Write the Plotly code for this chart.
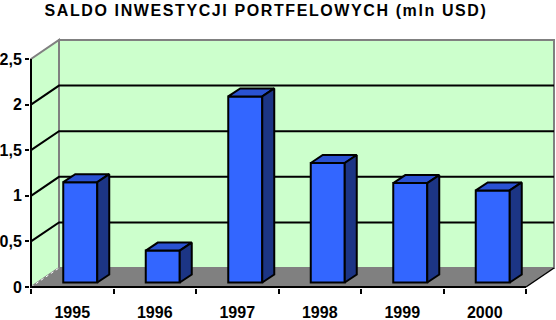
import numpy as np
import plotly.graph_objects as go

# ---------------- data ----------------
years = ["1995", "1996", "1997", "1998", "1999", "2000"]
saldo = [1.10, 0.35, 2.04, 1.31, 1.09, 1.01]
y_tick_vals = [0, 0.5, 1, 1.5, 2, 2.5]
y_tick_text = ["0", "0,5", "1", "1,5", "2", "2,5"]
title_text = "SALDO INWESTYCJI PORTFELOWYCH (mln USD)"

# ---------------- geometry (pixel based scale) ----------------
W, H = 556, 320
L, R, T, B = 30, 0, 38, 32
PXX = 82.5   # px per category
PXY = 91.2   # px per unit of value
plot_w = W - L - R
plot_h = H - T - B
x_start = -0.5 - 1 / PXX
x_range = [x_start, x_start + plot_w / PXX]
y_start = -1 / PXY
y_range = [y_start, y_start + plot_h / PXY]

DX, DY = 28 / PXX, 19 / PXY        # depth of the 3D box
OX, OY = 8 / PXX, 4.5 / PXY        # bar front-face offset into depth
BX, BY = 12 / PXX, 8 / PXY         # bar depth
BW = 34 / PXX                      # bar front width

n = len(years)
xs = np.arange(n)
ymax = y_tick_vals[-1]
xl, xr = -0.5, n - 0.5

GREEN = "#CCFFCC"
GRAY = "#808080"
FRONT = "#3366FF"
TOP = "#2A52D2"
SIDE = "#1C3585"

FONT = "Liberation Sans, Arial, sans-serif"


def path(points):
    return "M " + " L ".join(f"{px},{py}" for px, py in points) + " Z"


shapes = []
# left side wall
shapes.append(dict(type="path", xref="x", yref="y", layer="below",
                   path=path([(xl, 0), (xl, ymax), (xl + DX, ymax + DY), (xl + DX, DY)]),
                   fillcolor=GREEN, line=dict(color=GRAY, width=2)))
# back wall
shapes.append(dict(type="path", xref="x", yref="y", layer="below",
                   path=path([(xl + DX, DY), (xr + DX, DY), (xr + DX, ymax + DY), (xl + DX, ymax + DY)]),
                   fillcolor=GREEN, line=dict(color=GRAY, width=2)))
# gridlines on walls
for v in y_tick_vals[1:-1]:
    shapes.append(dict(type="path", xref="x", yref="y", layer="below",
                       path=f"M {xl},{v} L {xl + DX},{v + DY} L {xr + DX},{v + DY}",
                       line=dict(color="black", width=2)))
# floor
shapes.append(dict(type="path", xref="x", yref="y", layer="below",
                   path=path([(xl, 0), (xr, 0), (xr + DX, DY), (xl + DX, DY)]),
                   fillcolor=GRAY, line=dict(width=0)))
shapes.append(dict(type="line", xref="x", yref="y", layer="below",
                   x0=xl, y0=0, x1=xl + DX, y1=DY,
                   line=dict(color="white", width=1, dash="dot")))
shapes.append(dict(type="line", xref="x", yref="y", layer="below",
                   x0=xr, y0=0, x1=xr + DX, y1=DY,
                   line=dict(color="black", width=1.5)))
# axis lines
shapes.append(dict(type="path", xref="x", yref="y", layer="below",
                   path=f"M {xl},{ymax} L {xl},0 L {xr},0",
                   line=dict(color="black", width=2)))

fig = go.Figure()

# bar front faces
fig.add_trace(go.Bar(
    x=xs + OX, y=saldo, base=[OY] * n, width=BW,
    marker=dict(color=FRONT, line=dict(color="black", width=2)),
    hoverinfo="skip", xaxis="x", yaxis="y"))

# bar top and side faces
top_x, top_y, side_x, side_y = [], [], [], []
for i, v in enumerate(saldo):
    a = i + OX - BW / 2
    b = i + OX + BW / 2
    t = OY + v
    top_x += [a, b, b + BX, a + BX, a, None]
    top_y += [t, t, t + BY, t + BY, t, None]
    side_x += [b, b, b + BX, b + BX, b, None]
    side_y += [OY, t, t + BY, OY + BY, OY, None]

fig.add_trace(go.Scatter(x=top_x, y=top_y, mode="lines", fill="toself",
                         fillcolor=TOP, line=dict(color="black", width=2),
                         hoverinfo="skip", xaxis="x2", yaxis="y"))
fig.add_trace(go.Scatter(x=side_x, y=side_y, mode="lines", fill="toself",
                         fillcolor=SIDE, line=dict(color="black", width=2),
                         hoverinfo="skip", xaxis="x2", yaxis="y"))

tick_font = dict(family=FONT, size=16, color="black", weight="bold")

fig.update_layout(
    width=W, height=H, autosize=False,
    margin=dict(l=L, r=R, t=T, b=B, pad=0),
    paper_bgcolor="white", plot_bgcolor="white",
    showlegend=False,
    shapes=shapes,
    title=dict(text=title_text, xref="container", yref="container",
               x=266 / W, xanchor="center", y=1 - 10 / H, yanchor="middle",
               font=dict(family=FONT, size=16, color="black", weight="bold")),
    xaxis=dict(range=x_range, tickvals=list(xs), ticktext=years, ticks="",
               showgrid=False, zeroline=False, showline=False,
               tickfont=tick_font, ticklabelstandoff=13),
    xaxis2=dict(range=x_range, overlaying="x", anchor="y", side="bottom",
                tickvals=[i - 0.5 for i in range(n + 1)], ticks="outside",
                ticklen=5, tickwidth=2, tickcolor="black",
                showticklabels=False, showgrid=False, zeroline=False, showline=False),
    yaxis=dict(range=y_range, tickvals=y_tick_vals, ticktext=y_tick_text,
               ticks="outside", ticklen=4, tickwidth=2, tickcolor="black",
               showgrid=False, zeroline=False, showline=False,
               tickfont=tick_font),
)

# the original renders the title with wide letter spacing
post = ("document.querySelectorAll('.gtitle').forEach(function(e){"
        "e.style.letterSpacing='1.6px';});")
fig.write_html("out.html", post_script=post)
